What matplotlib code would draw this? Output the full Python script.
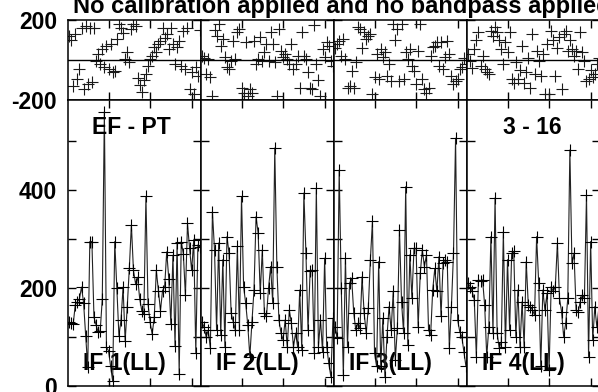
import numpy as np
import matplotlib
matplotlib.use("Agg")
import matplotlib.pyplot as plt

plt.rcParams['font.family'] = ['Liberation Sans', 'DejaVu Sans']
plt.rcParams['font.weight'] = 'bold'

title = "No calibration applied and no bandpass applied"
baseline_label = "EF - PT"
time_label = "3 - 16"
if_labels = ["IF 1(LL)", "IF 2(LL)", "IF 3(LL)", "IF 4(LL)"]

# amplitude per channel (64 channels per IF)
amp_if1 = [130, 128, 126, 166, 172, 178, 202, 170, 103, 38, 295, 295, 140, 125, 110, 113,
           178, 560, 79, 72, 40, 10, 295, 200, 103, 134, 202, 92, 161, 240, 329, 236,
           209, 222, 178, 154, 147, 387, 168, 130, 106, 140, 236, 195, 154, 195, 202, 274,
           219, 126, 267, 82, 291, 24, 295, 270, 185, 332, 281, 236, 298, 68, 288, 284]
amp_if2 = [130, 120, 100, 114, 77, 356, 278, 114, 292, 104, 258, 80, 305, 271, 149, 131,
           114, 285, 114, 387, 203, 169, 125, 60, 130, 196, 346, 312, 189, 278, 149, 142,
           200, 244, 170, 486, 244, 135, 108, 94, 135, 80, 155, 128, 80, 108, 80, 196,
           74, 394, 271, 114, 234, 237, 67, 404, 80, 135, 70, 261, 80, 46, 19, 138]
amp_if3 = [120, 97, 441, 200, 22, 261, 80, 210, 220, 149, 114, 128, 118, 223, 149, 108,
           159, 258, 336, 67, 40, 254, 40, 138, 19, 101, 162, 114, 193, 53, 118, 319,
           172, 108, 407, 84, 268, 179, 281, 281, 121, 230, 278, 244, 268, 114, 104, 196,
           240, 193, 264, 142, 251, 258, 254, 77, 162, 271, 506, 135, 111, 101, 70, 40]
amp_if4 = [210, 203, 193, 176, 60, 217, 214, 217, 165, 60, 120, 305, 108, 384, 108, 77,
           90, 315, 80, 258, 114, 271, 275, 101, 196, 80, 172, 80, 254, 165, 162, 155,
           145, 305, 210, 40, 196, 155, 189, 33, 203, 193, 203, 292, 179, 152, 101, 128,
           179, 482, 251, 271, 155, 152, 172, 186, 179, 390, 60, 295, 94, 162, 120, 162]

# phase per channel (degrees)
ph_if1 = [120, 100, -130, 129, -94, -45, 162, -144, 170, -119, 162, -110, 162, -3, 30, -20,
          54, -36, 71, -45, 79, -61, -53, 104, 178, 162, 137, 5, 40, -12, 153, 178,
          170, -90, -127, -160, -102, -69, -28, 5, 21, 63, 40, 79, 96, 162, 112, 129,
          54, 162, 79, -20, 63, 96, -28, 145, -45, 162, -144, -61, -168, -36, -78, 150]
ph_if2 = [20, 10, -71, 5, -87, -180, 150, 120, 181, 72, 106, 13, -37, -45, -3, 97,
          5, 139, 156, -138, -163, 89, -180, -146, -163, 97, -20, 5, 114, -3, 39, 81,
          -3, 139, 81, -12, -180, 156, 47, 13, 30, 5, -20, 81, -45, -20, 22, -138,
          139, 22, 5, -60, -138, -146, 173, -20, -100, -180, 55, 13, 89, 72, -3, -30]
ph_if3 = [60, 80, 97, 20, 106, 5, -138, -130, -54, -138, -12, 164, 156, 60, 139, 106,
          122, 131, -171, -87, 30, -96, 55, 13, 39, -79, -20, -104, 181, 100, 156, -104,
          181, -96, 39, 5, 55, -29, -54, -121, 47, 181, -96, -146, -163, -138, 20, 64,
          72, 89, -29, 89, -45, 13, 97, 30, -80, -121, -104, -96, -45, -37, 10, -20]
ph_if4 = [30, -3, -40, 55, 100, 139, -29, 20, -45, -60, -71, 147, 120, 164, 139, 100,
          55, -20, 89, 40, 139, -96, -113, -12, -96, -50, 72, -113, -60, 10, -138, 131,
          -71, 47, -3, -79, 30, -171, 81, -171, 147, 100, -79, 60, 114, -146, 131, 147,
          47, 100, 55, 20, 47, -45, 139, 40, -3, -104, -96, -50, -87, -71, -20, 10]

amps = [amp_if1, amp_if2, amp_if3, amp_if4]
phases = [ph_if1, ph_if2, ph_if3, ph_if4]

chan_ticks = [20, 40, 60]
amp_ticks = [0, 100, 200, 300, 400, 500]
amp_ticklabels = ["0", "", "200", "", "400", ""]
ph_ticks = [-200, 200]
ph_ticklabels = ["-200", "200"]

fig = plt.figure(figsize=(5.98, 3.92), dpi=100)

left = 68 / 598
pw = 133 / 598
ph_bottom, ph_top = 1 - 100 / 392, 1 - 20 / 392
am_bottom, am_top = 1 - 386 / 392, 1 - 100 / 392
fs = 16.5

for i in range(4):
    x = np.arange(1, len(amps[i]) + 1)

    axp = fig.add_axes([left + i * pw, ph_bottom, pw, ph_top - ph_bottom])
    axp.plot(x, phases[i], linestyle='none', marker='+', ms=8, mew=0.8, color='#1a1a1a')
    axp.axhline(0, color='black', lw=1.0)
    axp.set_xlim(0.5, 64.5)
    axp.set_ylim(-200, 200)
    axp.set_xticks(chan_ticks)
    axp.set_xticklabels([])
    axp.set_yticks(ph_ticks)
    axp.set_yticklabels(ph_ticklabels if i == 0 else [])

    axa = fig.add_axes([left + i * pw, am_bottom, pw, am_top - am_bottom])
    axa.plot(x, amps[i], color='#222222', lw=0.8, marker='+', ms=8, mew=0.8, mec='black')
    axa.set_xlim(0.5, 64.5)
    axa.set_ylim(0, 584)
    axa.set_xticks(chan_ticks)
    axa.set_xticklabels([])
    axa.set_yticks(amp_ticks)
    axa.set_yticklabels(amp_ticklabels if i == 0 else [])
    axa.text(0.115, 0.056, if_labels[i], transform=axa.transAxes, fontsize=fs,
             fontweight='bold', zorder=0)

    for ax in (axp, axa):
        ax.tick_params(direction='in', length=6, width=1.0, top=True, right=True,
                       labelsize=fs, pad=8)
        for s in ax.spines.values():
            s.set_linewidth(1.1)
        for lab in ax.get_yticklabels():
            lab.set_fontweight('bold')

    if i == 0:
        axa.text(0.18, 0.881, baseline_label, transform=axa.transAxes, fontsize=fs,
                 fontweight='bold')
    if i == 3:
        axa.text(0.27, 0.881, time_label, transform=axa.transAxes, fontsize=fs,
                 fontweight='bold')

fig.text(73 / 598, 1 - 13 / 392, title, fontsize=17, fontweight='bold', va='baseline')

fig.savefig("out.png", dpi=100)
